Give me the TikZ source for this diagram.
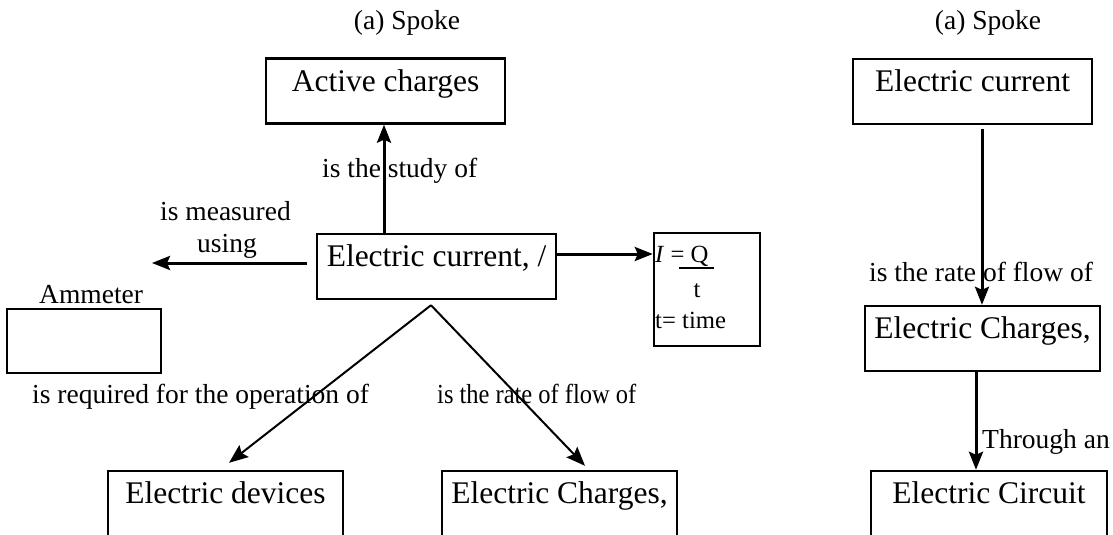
\documentclass[tikz,border=0pt]{standalone}
\usepackage{fontspec}
\setmainfont{Liberation Serif}
\usetikzlibrary{arrows.meta}
\begin{document}
\begin{tikzpicture}[x=1pt,y=-1pt,
  cbox/.style={draw, line width=2.4pt, rectangle, inner sep=0pt, minimum height=65pt,
               text height=20pt, text depth=20pt, font=\fontsize{31.5}{36}\selectfont},
  plainbox/.style={draw, line width=2.4pt, rectangle, inner sep=0pt},
  lbl/.style={inner sep=0pt, anchor=base west, font=\fontsize{27.5}{32}\selectfont},
  fml/.style={inner sep=0pt, font=\fontsize{24.7}{28}\selectfont},
  arr/.style={line width=3pt, -{Stealth[length=18pt,width=14pt,inset=3pt]}},
  darr/.style={line width=2pt, -{Stealth[length=19pt,width=15pt,inset=3pt]}}]
\useasboundingbox (0,0) rectangle (1113,535);
\clip (0,0) rectangle (1113,535);

% ---------- left diagram ----------
\node[lbl, anchor=base] (titleL) at (407,30) {(a) Spoke};
\node[cbox, minimum width=239pt] (active) at (385.5,91) {Active charges};
\node[cbox, minimum width=239pt] (cur) at (436.5,266.5) {Electric current, /};
\node[plainbox, minimum width=154pt, minimum height=64pt] (amm) at (84,341) {};
\node[cbox, minimum width=235pt] (dev) at (225.5,503.5) {Electric devices};
\node[cbox, minimum width=235pt] (chg) at (559.5,503.5) {Electric Charges,};
\node[plainbox, minimum width=106pt, minimum height=113pt] (fbox) at (707,289.5) {};

\node[lbl] (study) at (322,177) {is the study of};
\node[lbl] (meas) at (160,220) {is measured};
\node[lbl] (using) at (197,252) {using};
\node[lbl] (ammlbl) at (39,303) {Ammeter};
\node[lbl] (req) at (32,403) {is required for the operation of};
\node[lbl] (rateL) at (437,403) {\scalebox{0.89}[1]{is the rate of flow of}};

\node[fml, anchor=base west] (feq) at (655,262) {\textit{I} = Q};
\draw[line width=1.6pt] (679,268) -- (714,268);
\node[fml, anchor=base] (ft) at (697,297) {t};
\node[fml, anchor=base west] (ftime) at (655,328) {t= time};

\coordinate (u1) at ([xshift=-52.5pt]cur.north);
\draw[arr] (u1) -- (u1 |- active.south);
\coordinate (f1) at ([yshift=12.5pt]cur.east);
\draw[arr] (f1) -- (f1 -| fbox.west);
\coordinate (l1) at ([xshift=-9pt,yshift=3.5pt]cur.west);
\coordinate (amtip) at (152,263);
\draw[arr] (l1) -- (amtip);
\coordinate (split) at ([xshift=-5.5pt,yshift=-5pt]cur.south);
\draw[darr] (split) -- ([xshift=3.5pt,yshift=7pt]dev.north);
\draw[darr] (split) -- ([xshift=25.5pt,yshift=4pt]chg.north);

% ---------- right diagram ----------
\node[lbl, anchor=base] (titleR) at (988,30) {(a) Spoke};
\node[cbox, minimum width=239pt] (rcur) at (972.5,91.5) {Electric current};
\node[cbox, minimum width=235pt] (rchg) at (982.5,338.5) {Electric Charges,};
\node[cbox, minimum width=236pt] (rcir) at (989,503.5) {Electric Circuit};

\node[lbl] (rateR) at (869,281) {is the rate of flow of};
\node[lbl] (through) at (982,448) {Through an};

\coordinate (r1) at ([xshift=9.5pt,yshift=-4pt]rcur.south);
\draw[arr] (r1) -- (r1 |- rchg.north);
\coordinate (r2) at ([xshift=-6.5pt]rchg.south);
\draw[arr] (r2) -- (r2 |- rcir.north);
\end{tikzpicture}
\end{document}
